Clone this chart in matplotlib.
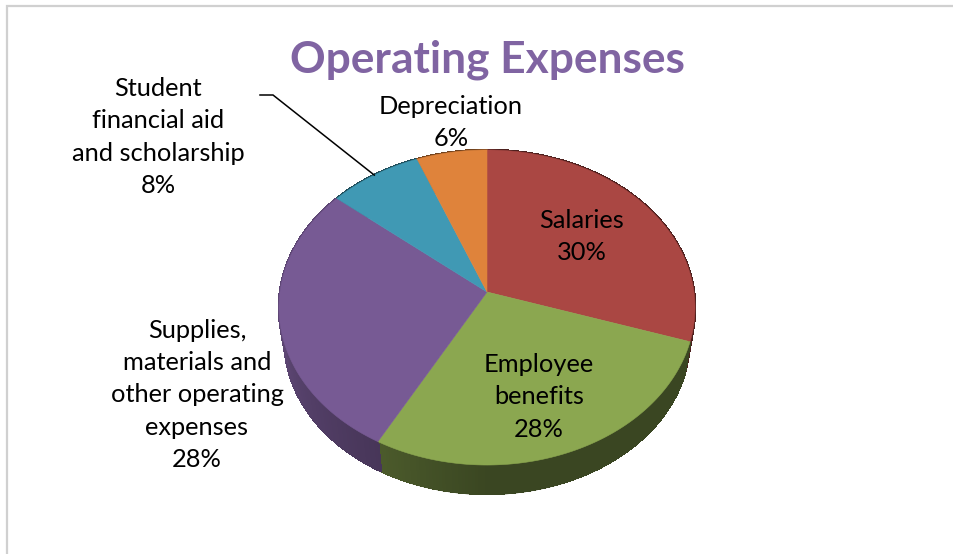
import numpy as np
import matplotlib
matplotlib.use("Agg")
import matplotlib.pyplot as plt

# ---- data ----
title = "Operating Expenses"
categories = ["Salaries", "Employee\nbenefits", "Supplies,\nmaterials and\nother operating\nexpenses",
              "Student\nfinancial aid\nand scholarship", "Depreciation"]
values = [30, 28, 28, 8, 6]
colors = ["#AA4743", "#8BA750", "#775A94", "#4099B4", "#DF833B"]
label_xy = [(582, 236.5), (539, 397), (197, 395), (158, 137), (451, 122.5)]
wall_dark = [0.45, 0.42, 0.60, 0.5, 0.5]
wall_light = [0.45, 0.54, 0.78, 0.5, 0.5]

# ---- geometry of the tilted pie (pixel space) ----
CX, CY = 487, 292
A, B, K = 207.0, 156.0, 0.0984
SCALE, DEPTH, YC = 0.972, 34.0, 307.0


def project(theta):
    """theta: clockwise from the top, radians -> top-face outline point."""
    u, v = np.sin(theta), np.cos(theta)
    den = 1 + K * v
    return CX + A * u / den, CY - B * v / den


def project_bottom(theta):
    x, y = project(theta)
    return CX + SCALE * (x - CX), YC + SCALE * (y - YC) + DEPTH


fig = plt.figure(figsize=(9.54, 5.54), dpi=100)
ax = fig.add_axes([0, 0, 1, 1])
ax.set_xlim(0, 954)
ax.set_ylim(554, 0)
ax.axis("off")

# frame of the screenshot
ax.plot([954, 7, 7], [5.5, 5.5, 554], color="#D0D0D0", lw=1.6, solid_joinstyle="miter")

fracs = np.array(values, dtype=float) / sum(values)
edges = 2 * np.pi * np.concatenate([[0], np.cumsum(fracs)])


def shade(col, f):
    return tuple(c * f for c in matplotlib.colors.to_rgb(col))


def wall_factor(i, w):
    if i == 1:      # lighter towards the far (left) end
        w = np.clip((w - 0.72) / 0.28, 0, 1)
    elif i == 2:    # lighter towards the left silhouette
        w = np.clip(w / 0.5, 0, 1)
    return wall_dark[i] + (wall_light[i] - wall_dark[i]) * w


# side wall: flat antialiased base plus a fine shading strip on top of it
for i, col in enumerate(colors):
    t = np.linspace(edges[i], edges[i + 1], 120)
    x0, y0 = project(t)
    x1, y1 = project_bottom(t)
    base = shade(col, wall_factor(i, 0.0))
    ax.fill(np.r_[x0, x1[::-1]], np.r_[y0, y1[::-1]], facecolor=base, edgecolor=base, lw=0.5, zorder=2)
    for j in range(len(t) - 1):
        c = shade(col, wall_factor(i, j / (len(t) - 2)))
        # the strip stops a little short of the outer edge so that edge stays smooth
        bx = x0[j:j + 2] + 0.97 * (x1[j:j + 2] - x0[j:j + 2])
        by = y0[j:j + 2] + 0.97 * (y1[j:j + 2] - y0[j:j + 2])
        ax.fill([x0[j], x0[j + 1], bx[1], bx[0]], [y0[j], y0[j + 1], by[1], by[0]],
                facecolor=c, edgecolor=c, lw=1.2, antialiased=False, zorder=2.1)

# top face
for i, col in enumerate(colors):
    t = np.linspace(edges[i], edges[i + 1], 200)
    x, y = project(t)
    ax.fill(np.r_[CX, x], np.r_[CY, y], facecolor=col, edgecolor=col, lw=0.4, zorder=3)

# leader line for the student aid slice
mid = (edges[3] + edges[4]) / 2
lx, ly = project(mid)
ax.plot([260, 273, lx], [95, 95, ly], color="black", lw=1.1, zorder=4, solid_joinstyle="miter")

# labels
FONT = "Lato"
for name, v, (x, y) in zip(categories, values, label_xy):
    ax.text(x, y, f"{name}\n{v}%", ha="center", va="center", fontsize=18.3,
            family=FONT, color="black", linespacing=1.49, zorder=5)

ax.text(487, 60, title, ha="center", va="center", fontsize=31.9, fontweight="bold",
        family=FONT, color="#8064A2", zorder=5)

fig.savefig("out.png", dpi=100, facecolor="white")
